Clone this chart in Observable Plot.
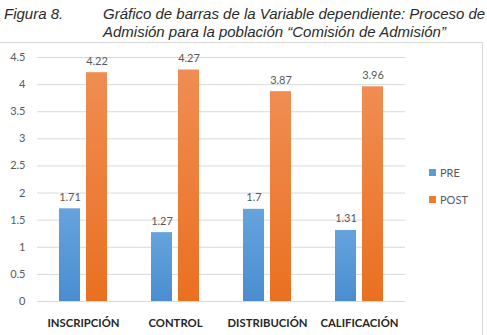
<!DOCTYPE html>
<html>
<head>
<meta charset="utf-8">
<script src="https://cdn.jsdelivr.net/npm/d3@7"></script>
<script src="https://cdn.jsdelivr.net/npm/@observablehq/plot@0.6"></script>
<style>
  body { margin: 0; background: #fff; width: 487px; height: 335px; overflow: hidden; position: relative; }
  .title { position: absolute; font-family: "Liberation Sans", Arial, sans-serif; font-style: italic; font-size: 15px; color: #2a2a2a; white-space: nowrap; line-height: 17px; }
  #frame { position: absolute; left: -1px; top: 42px; width: 484px; height: 300px; border: 1px solid #d9d9d9; box-sizing: border-box; }
  #chart { position: absolute; left: 0; top: 42px; }
  .legend { position: absolute; left: 429px; font-family: Lato, "Open Sans", sans-serif; font-size: 11px; color: #595959; display: flex; align-items: center; }
  .legend span.sw { display: inline-block; width: 7px; height: 7px; margin-right: 4px; }
</style>
</head>
<body>
<div class="title" style="left:4px; top:5px;">Figura 8.</div>
<div class="title" style="left:103px; top:5px;">Gráfico de barras de la Variable dependiente: Proceso de</div>
<div class="title" style="left:103px; top:23px;">Admisión para la población “Comisión de Admisión”</div>
<div id="frame"></div>
<div id="chart"></div>
<div class="legend" style="top:166px;"><span class="sw" style="background:#5b9bd5"></span>PRE</div>
<div class="legend" style="top:193px;"><span class="sw" style="background:#ed7d31"></span>POST</div>
<script>
const categories = ["INSCRIPCIÓN", "CONTROL", "DISTRIBUCIÓN", "CALIFICACIÓN"];
const series = ["PRE", "POST"];
const preValues = [1.71, 1.27, 1.7, 1.31];
const postValues = [4.22, 4.27, 3.87, 3.96];
const yTicks = [0, 0.5, 1, 1.5, 2, 2.5, 3, 3.5, 4, 4.5];

const rows = [];
categories.forEach((c, i) => {
  rows.push({cat: c, serie: "PRE", value: preValues[i]});
  rows.push({cat: c, serie: "POST", value: postValues[i]});
});

const fills = {PRE: "url(#gradPre)", POST: "url(#gradPost)"};

// Grouped bars: categories as facets, series as the inner band scale
const plot = Plot.plot({
  width: 487,
  height: 293,
  marginTop: 15,
  marginBottom: 34,
  marginLeft: 36,
  marginRight: 81,
  style: {fontFamily: "Lato, 'Open Sans', sans-serif", fontSize: "11px", color: "#595959", background: "transparent", overflow: "visible"},
  fx: {domain: categories, padding: 0, label: null, axis: null},
  x: {domain: series, paddingInner: 0.22, paddingOuter: 0.77, axis: null},
  y: {domain: [0, 4.5], label: null, axis: null},
  marks: [
    Plot.gridY(yTicks, {stroke: "#d9d9d9", strokeOpacity: 1}),
    Plot.axisY(yTicks, {tickSize: 0, tickPadding: 12, tickFormat: d => String(d), fill: "#595959", fontSize: 11, facetAnchor: "left"}),
    Plot.axisFx({anchor: "bottom", tickSize: 0, tickPadding: 17, fontWeight: "bold", fill: "#262626", fontSize: 11.3, label: null}),
    Plot.barY(rows, {fx: "cat", x: "serie", y: "value", fill: d => fills[d.serie]}),
    Plot.text(rows, {fx: "cat", x: "serie", y: "value", text: d => String(d.value), dy: -8, lineAnchor: "bottom", fill: "#595959", fontSize: 11})
  ]
});

const ns = "http://www.w3.org/2000/svg";
const defs = document.createElementNS(ns, "defs");
defs.innerHTML = `
  <linearGradient id="gradPre" x1="0" y1="0" x2="0" y2="1">
    <stop offset="0" stop-color="#66a3dd"/><stop offset="1" stop-color="#4a8dd0"/>
  </linearGradient>
  <linearGradient id="gradPost" x1="0" y1="0" x2="0" y2="1">
    <stop offset="0" stop-color="#f08d52"/><stop offset="1" stop-color="#ea7021"/>
  </linearGradient>`;
plot.insertBefore(defs, plot.firstChild);
document.getElementById("chart").appendChild(plot);
</script>
</body>
</html>
